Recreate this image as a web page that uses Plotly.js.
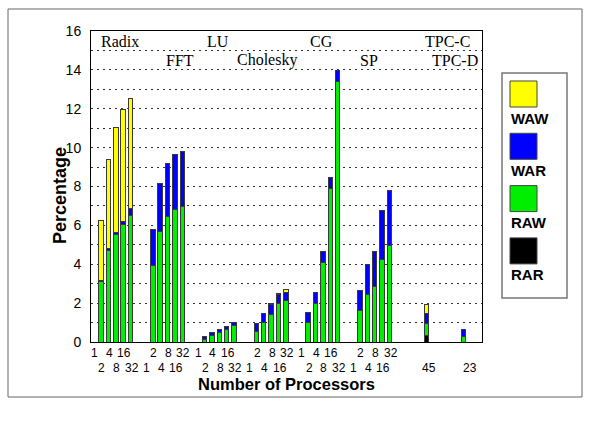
<!DOCTYPE html>
<html>
<head>
<meta charset="utf-8">
<script src="https://cdn.plot.ly/plotly-3.0.1.min.js"></script>
<style>
  html, body { margin: 0; padding: 0; background: #fff; }
  #chart { width: 589px; height: 425px; }
</style>
</head>
<body>
<div id="chart"></div>
<script>
// Benchmarks and processor counts (one bar per processor count)
const benchmarks = ['Radix', 'FFT', 'LU', 'Cholesky', 'CG', 'SP', 'TPC-C', 'TPC-D'];
const procs = ['1', '2', '4', '8', '16', '32'];
const tpcProcs = ['45', '23'];

// Share of each dependence type, per benchmark, for 1,2,4,8,16,32 processors
const rawRadix    = [null, 3.10, 4.72, 5.55, 6.05, 6.50];
const warRadix    = [null, 0.05, 0.08, 0.10, 0.15, 0.35];
const wawRadix    = [null, 3.10, 4.60, 5.40, 5.75, 5.70];

const rawFFT      = [null, 3.95, 5.66, 6.45, 6.81, 6.96];
const warFFT      = [null, 1.85, 2.49, 2.73, 2.83, 2.82];

const rawLU       = [null, 0.15, 0.36, 0.51, 0.63, 0.84];
const warLU       = [null, 0.14, 0.14, 0.14, 0.17, 0.17];

const rawCholesky = [null, 0.55, 0.98, 1.41, 1.97, 2.12];
const warCholesky = [null, 0.38, 0.47, 0.50, 0.47, 0.42];
const wawCholesky = [null, 0.00, 0.00, 0.05, 0.08, 0.18];

const rawCG       = [null, 0.99, 2.00, 4.08, 7.92, 13.41];
const warCG       = [null, 0.52, 0.57, 0.59, 0.54, 0.57];

const rawSP       = [null, 1.60, 2.44, 2.88, 4.24, 4.94];
const warSP       = [null, 1.06, 1.54, 1.79, 2.50, 2.86];

// Commercial workloads: [TPC-C, TPC-D]
const rarTPC = [0.35, 0.00];
const rawTPC = [0.60, 0.27];
const warTPC = [0.50, 0.36];
const wawTPC = [0.50, 0.00];

const seriesNames  = ['RAR', 'RAW', 'WAR', 'WAW'];
const seriesColors = ['#000000', '#00ee00', '#0000ff', '#ffff00'];

// ---- assemble the bars ----
const zeros = [null, 0, 0, 0, 0, 0];
const sci = [
  { rar: zeros, raw: rawRadix,    war: warRadix,    waw: wawRadix },
  { rar: zeros, raw: rawFFT,      war: warFFT,      waw: zeros },
  { rar: zeros, raw: rawLU,       war: warLU,       waw: zeros },
  { rar: zeros, raw: rawCholesky, war: warCholesky, waw: wawCholesky },
  { rar: zeros, raw: rawCG,       war: warCG,       waw: zeros },
  { rar: zeros, raw: rawSP,       war: warSP,       waw: zeros }
];

// slot index along the x axis: 6 bars + 1 gap per benchmark
const xs = [];
const cols = { rar: [], raw: [], war: [], waw: [] };
sci.forEach((g, gi) => {
  procs.forEach((p, pi) => {
    xs.push(gi * 7 + pi);
    ['rar', 'raw', 'war', 'waw'].forEach(k => cols[k].push(g[k][pi]));
  });
});
const tpcSlots = [45, 50];
tpcProcs.forEach((p, i) => {
  xs.push(tpcSlots[i]);
  cols.rar.push(rarTPC[i]); cols.raw.push(rawTPC[i]);
  cols.war.push(warTPC[i]); cols.waw.push(wawTPC[i]);
});

const traces = ['rar', 'raw', 'war', 'waw'].map((k, i) => ({
  type: 'bar',
  name: seriesNames[i],
  x: xs,
  y: cols[k].map(v => (v === 0 ? null : v)),
  width: 0.6,
  marker: { color: seriesColors[i], line: { color: '#3a3a3a', width: 1 } },
  showlegend: false,
  hoverinfo: 'name+y'
}));

// ---- page geometry helpers (pixels -> paper) ----
const L = 91, R = 482, T = 31, B = 342;
const W = 589, H = 425;
const px = x => (x - L) / (R - L);
const py = y => (B - y) / (B - T);

const annotations = [];
const shapes = [];

// processor-count labels on two staggered rows
const tickFont = { family: 'Liberation Sans, Arial, sans-serif', size: 12, color: '#000' };
sci.forEach((g, gi) => {
  procs.forEach((p, pi) => {
    const topRow = ((pi + gi) % 2) === 0;
    annotations.push({
      xref: 'x', yref: 'paper', x: gi * 7 + pi, y: py(topRow ? 353 : 367.5),
      text: p, showarrow: false, font: tickFont, xanchor: 'center', yanchor: 'middle',
      xshift: 1
    });
  });
});
tpcProcs.forEach((p, i) => {
  annotations.push({
    xref: 'x', yref: 'paper', x: tpcSlots[i], y: py(367.5),
    text: p, showarrow: false, font: tickFont, xanchor: 'center', yanchor: 'middle',
    xshift: i === 0 ? 2 : 6
  });
});

// benchmark names inside the plot
const nameX = [3.6, 11.7, 16.8, 23.4, 30.8, 37.2, 47.9, 48.8];
const nameRow = [0, 1, 0, 1, 0, 1, 0, 1];
benchmarks.forEach((b, i) => {
  annotations.push({
    xref: 'x', yref: 'y', x: nameX[i], y: nameRow[i] === 0 ? 15.45 : 14.5,
    text: b, showarrow: false, xanchor: 'center', yanchor: 'middle',
    font: { family: 'Liberation Serif, Times New Roman, serif', size: 16, color: '#000' }
  });
});

// axis titles
annotations.push({
  xref: 'paper', yref: 'paper', x: px(286), y: py(384), text: '<b>Number of Processors</b>',
  showarrow: false, xanchor: 'center', yanchor: 'middle',
  font: { family: 'Liberation Sans, Arial, sans-serif', size: 16.5, color: '#000' }
});
annotations.push({
  xref: 'paper', yref: 'paper', x: px(60), y: py(196), text: '<b>Percentage</b>',
  textangle: -90, showarrow: false, xanchor: 'center', yanchor: 'middle',
  font: { family: 'Liberation Sans, Arial, sans-serif', size: 18, color: '#000' }
});

// legend: swatch with its label underneath
shapes.push({
  type: 'rect', xref: 'paper', yref: 'paper',
  x0: px(502), x1: px(567), y0: py(73), y1: py(298),
  line: { color: '#777', width: 1.5 }, fillcolor: 'rgba(0,0,0,0)'
});
const legendOrder = [3, 2, 1, 0];
legendOrder.forEach((si, row) => {
  const top = 81 + row * 52.3;
  shapes.push({
    type: 'rect', xref: 'paper', yref: 'paper',
    x0: px(510), x1: px(537), y0: py(top), y1: py(top + 26),
    line: { color: '#444', width: 1 }, fillcolor: seriesColors[si]
  });
  annotations.push({
    xref: 'paper', yref: 'paper', x: px(509), y: py(top + 37),
    text: '<b>' + seriesNames[si] + '</b>', showarrow: false,
    xanchor: 'left', yanchor: 'middle',
    font: { family: 'Liberation Sans, Arial, sans-serif', size: 15, color: '#000' }
  });
});

// outer frame around the figure
shapes.push({
  type: 'rect', xref: 'paper', yref: 'paper',
  x0: px(8), x1: px(582), y0: py(9), y1: py(397),
  line: { color: '#666', width: 1 }, fillcolor: 'rgba(0,0,0,0)'
});

const layout = {
  width: W, height: H,
  margin: { l: L, r: W - R, t: T, b: H - B, pad: 0 },
  paper_bgcolor: '#fff', plot_bgcolor: '#fff',
  barmode: 'stack',
  showlegend: false,
  xaxis: {
    range: [-0.35, 52.5], showticklabels: false, ticks: '', showgrid: false,
    zeroline: false, showline: true, linecolor: '#000', linewidth: 1, mirror: true,
    fixedrange: true
  },
  yaxis: {
    range: [0, 16], dtick: 2, tick0: 0, ticks: '', ticklabelstandoff: 6,
    showgrid: true, gridcolor: '#333', gridwidth: 1, griddash: '1.5px,4.5px',
    minor: { dtick: 1, showgrid: true, gridcolor: '#333', gridwidth: 1, griddash: '1.5px,4.5px' },
    zeroline: false, showline: true, linecolor: '#000', linewidth: 1, mirror: true,
    tickfont: { family: 'Liberation Sans, Arial, sans-serif', size: 14, color: '#000' },
    fixedrange: true
  },
  annotations: annotations,
  shapes: shapes
};

Plotly.newPlot('chart', traces, layout, { staticPlot: true, displayModeBar: false });
</script>
</body>
</html>
